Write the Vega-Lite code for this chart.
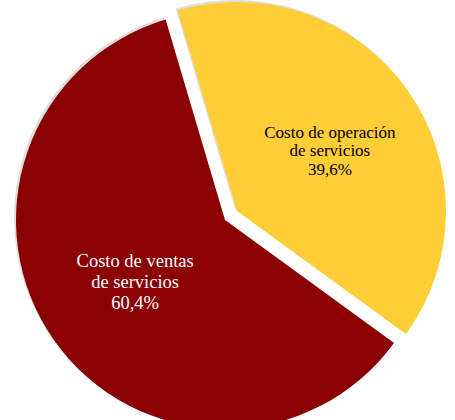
{
  "$schema": "https://vega.github.io/schema/vega-lite/v6.json",
  "width": 450,
  "height": 440,
  "padding": 0,
  "autosize": {"type": "none"},
  "background": "white",
  "config": {"view": {"stroke": null}},
  "data": {
    "values": [
      {"categoria": "Costo de operación de servicios", "porcentaje": 39.6, "etiqueta": "Costo de operación\nde servicios\n39,6%"},
      {"categoria": "Costo de ventas de servicios", "porcentaje": 60.4, "etiqueta": "Costo de ventas\nde servicios\n60,4%"}
    ]
  },
  "encoding": {
    "theta": {"field": "porcentaje", "type": "quantitative", "stack": true, "scale": {"range": [-0.288, 5.9952]}},
    "order": {"field": "categoria", "type": "nominal", "sort": "ascending"}
  },
  "layer": [
    {
      "mark": {"type": "arc", "outerRadius": 209, "xOffset": -2, "yOffset": -2, "color": "#c8c8c8"},
      "encoding": {
        "opacity": {"condition": {"test": "datum.categoria == 'Costo de ventas de servicios'", "value": 0.6}, "value": 0}
      }
    },
    {
      "mark": {"type": "arc", "outerRadius": 209, "xOffset": 10, "yOffset": -11, "color": "#c8c8c8"},
      "encoding": {
        "opacity": {"condition": {"test": "datum.categoria == 'Costo de operación de servicios'", "value": 0.6}, "value": 0}
      }
    },
    {
      "mark": {"type": "arc", "outerRadius": 209},
      "encoding": {
        "color": {"field": "categoria", "type": "nominal", "legend": null,
          "scale": {"domain": ["Costo de operación de servicios", "Costo de ventas de servicios"], "range": ["#FFCD36", "#8B0000"]}},
        "opacity": {"condition": {"test": "datum.categoria == 'Costo de ventas de servicios'", "value": 1}, "value": 0}
      }
    },
    {
      "mark": {"type": "arc", "outerRadius": 209, "xOffset": 12, "yOffset": -9},
      "encoding": {
        "color": {"field": "categoria", "type": "nominal", "legend": null},
        "opacity": {"condition": {"test": "datum.categoria == 'Costo de operación de servicios'", "value": 1}, "value": 0}
      }
    },
    {
      "mark": {"type": "text", "radius": 110, "yOffset": -22, "font": "Liberation Serif", "fontSize": 18.5, "lineBreak": "\n", "lineHeight": 21, "baseline": "middle", "align": "center"},
      "encoding": {
        "text": {"field": "etiqueta"},
        "color": {"value": "white"},
        "opacity": {"condition": {"test": "datum.categoria == 'Costo de ventas de servicios'", "value": 1}, "value": 0}
      }
    },
    {
      "mark": {"type": "text", "radius": 110, "xOffset": 15, "yOffset": -24, "font": "Liberation Serif", "fontSize": 17, "lineBreak": "\n", "lineHeight": 18.5, "baseline": "middle", "align": "center"},
      "encoding": {
        "text": {"field": "etiqueta"},
        "color": {"value": "black"},
        "opacity": {"condition": {"test": "datum.categoria == 'Costo de operación de servicios'", "value": 1}, "value": 0}
      }
    }
  ]
}
